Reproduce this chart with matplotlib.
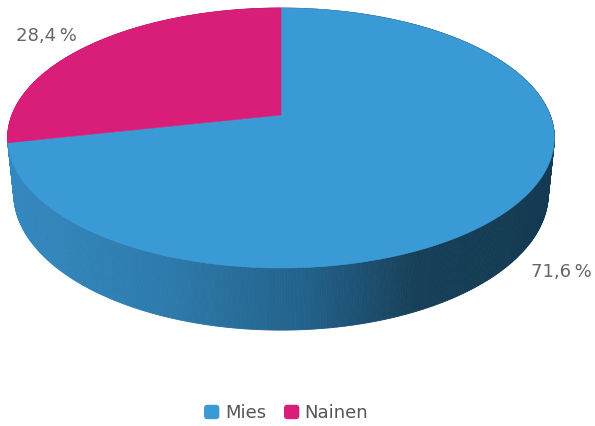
import numpy as np
import matplotlib.pyplot as plt
from matplotlib.patches import Polygon, Patch, FancyBboxPatch
from matplotlib.legend_handler import HandlerPatch
from matplotlib.colors import LinearSegmentedColormap

labels = ["Mies", "Nainen"]
shares = [71.6, 28.4]
value_labels = ["71,6\u202f%", "28,4\u202f%"]
top_colors = ["#3a9ad6", "#d81e79"]
side_colors = [
    LinearSegmentedColormap.from_list("mies_side", [
        (0.0, "#3489c0"), (0.3, "#2d7aab"), (0.55, "#22618a"),
        (0.75, "#173f58"), (1.0, "#133a52")]),
    LinearSegmentedColormap.from_list("nainen_side", [
        (0.0, "#c01b6c"), (1.0, "#7a1045")]),
]

# perspective camera looking down on a unit disc
elev = np.radians(27.9)
dist = 4.995
scale = 1344
depth = 0.235
cx, cy = 281, 115


def project(x, y, z):
    s, c = np.sin(elev), np.cos(elev)
    Y = y * s + z * c
    Z = y * c - z * s + dist
    return cx + scale * x / Z, cy - scale * Y / Z, Z


def rounded_square(legend, orig_handle, xdescent, ydescent,
                   width, height, fontsize):
    return FancyBboxPatch((-xdescent, -ydescent), width, height,
                          boxstyle="round,pad=0,rounding_size=2.5")


# slices go clockwise from 12 o'clock
angles = []
start = 90.0
for v in shares:
    end = start - v / 100 * 360
    angles.append((start, end))
    start = end

fig = plt.figure(figsize=(5.95, 4.26), dpi=100)
ax = fig.add_axes([0, 0, 1, 1])
ax.set_xlim(0, 595)
ax.set_ylim(426, 0)
ax.axis("off")

# side wall, far pieces first
quads = []
for i, (a0, a1) in enumerate(angles):
    t = np.radians(np.linspace(a0, a1, int(abs(a1 - a0) * 2) + 2))
    for j in range(len(t) - 1):
        xs = np.cos([t[j], t[j + 1], t[j + 1], t[j]])
        ys = np.sin([t[j], t[j + 1], t[j + 1], t[j]])
        zs = np.array([0, 0, -depth, -depth])
        px, py, pz = project(xs, ys, zs)
        quads.append((pz.mean(), i, px, py))
quads.sort(key=lambda q: -q[0])
for _, i, px, py in quads:
    col = side_colors[i](np.clip((px.mean() - 7) / 547, 0, 1))
    ax.add_patch(Polygon(np.column_stack([px, py]), closed=True,
                         facecolor=col, edgecolor=col, linewidth=0.6))

# top face
for i, (a0, a1) in enumerate(angles):
    t = np.radians(np.linspace(a0, a1, 400))
    xs = np.concatenate([[0], np.cos(t)])
    ys = np.concatenate([[0], np.sin(t)])
    px, py, _ = project(xs, ys, np.zeros_like(xs))
    ax.add_patch(Polygon(np.column_stack([px, py]), closed=True,
                         facecolor=top_colors[i], edgecolor=top_colors[i],
                         linewidth=0.4))

ax.text(46, 36, value_labels[1], ha="center", va="center",
        fontsize=13, color="#666666")
ax.text(561, 272, value_labels[0], ha="center", va="center",
        fontsize=13, color="#666666")

handles = [Patch(facecolor=c, edgecolor="none") for c in top_colors]
fig.legend(handles, labels, loc="center", bbox_to_anchor=(0.481, 0.030),
           ncol=2, frameon=False, fontsize=13, labelcolor="#555555",
           handlelength=0.85, handleheight=0.85, handletextpad=0.3,
           columnspacing=1.0,
           handler_map={Patch: HandlerPatch(patch_func=rounded_square)})

fig.savefig("out.png", dpi=100)
